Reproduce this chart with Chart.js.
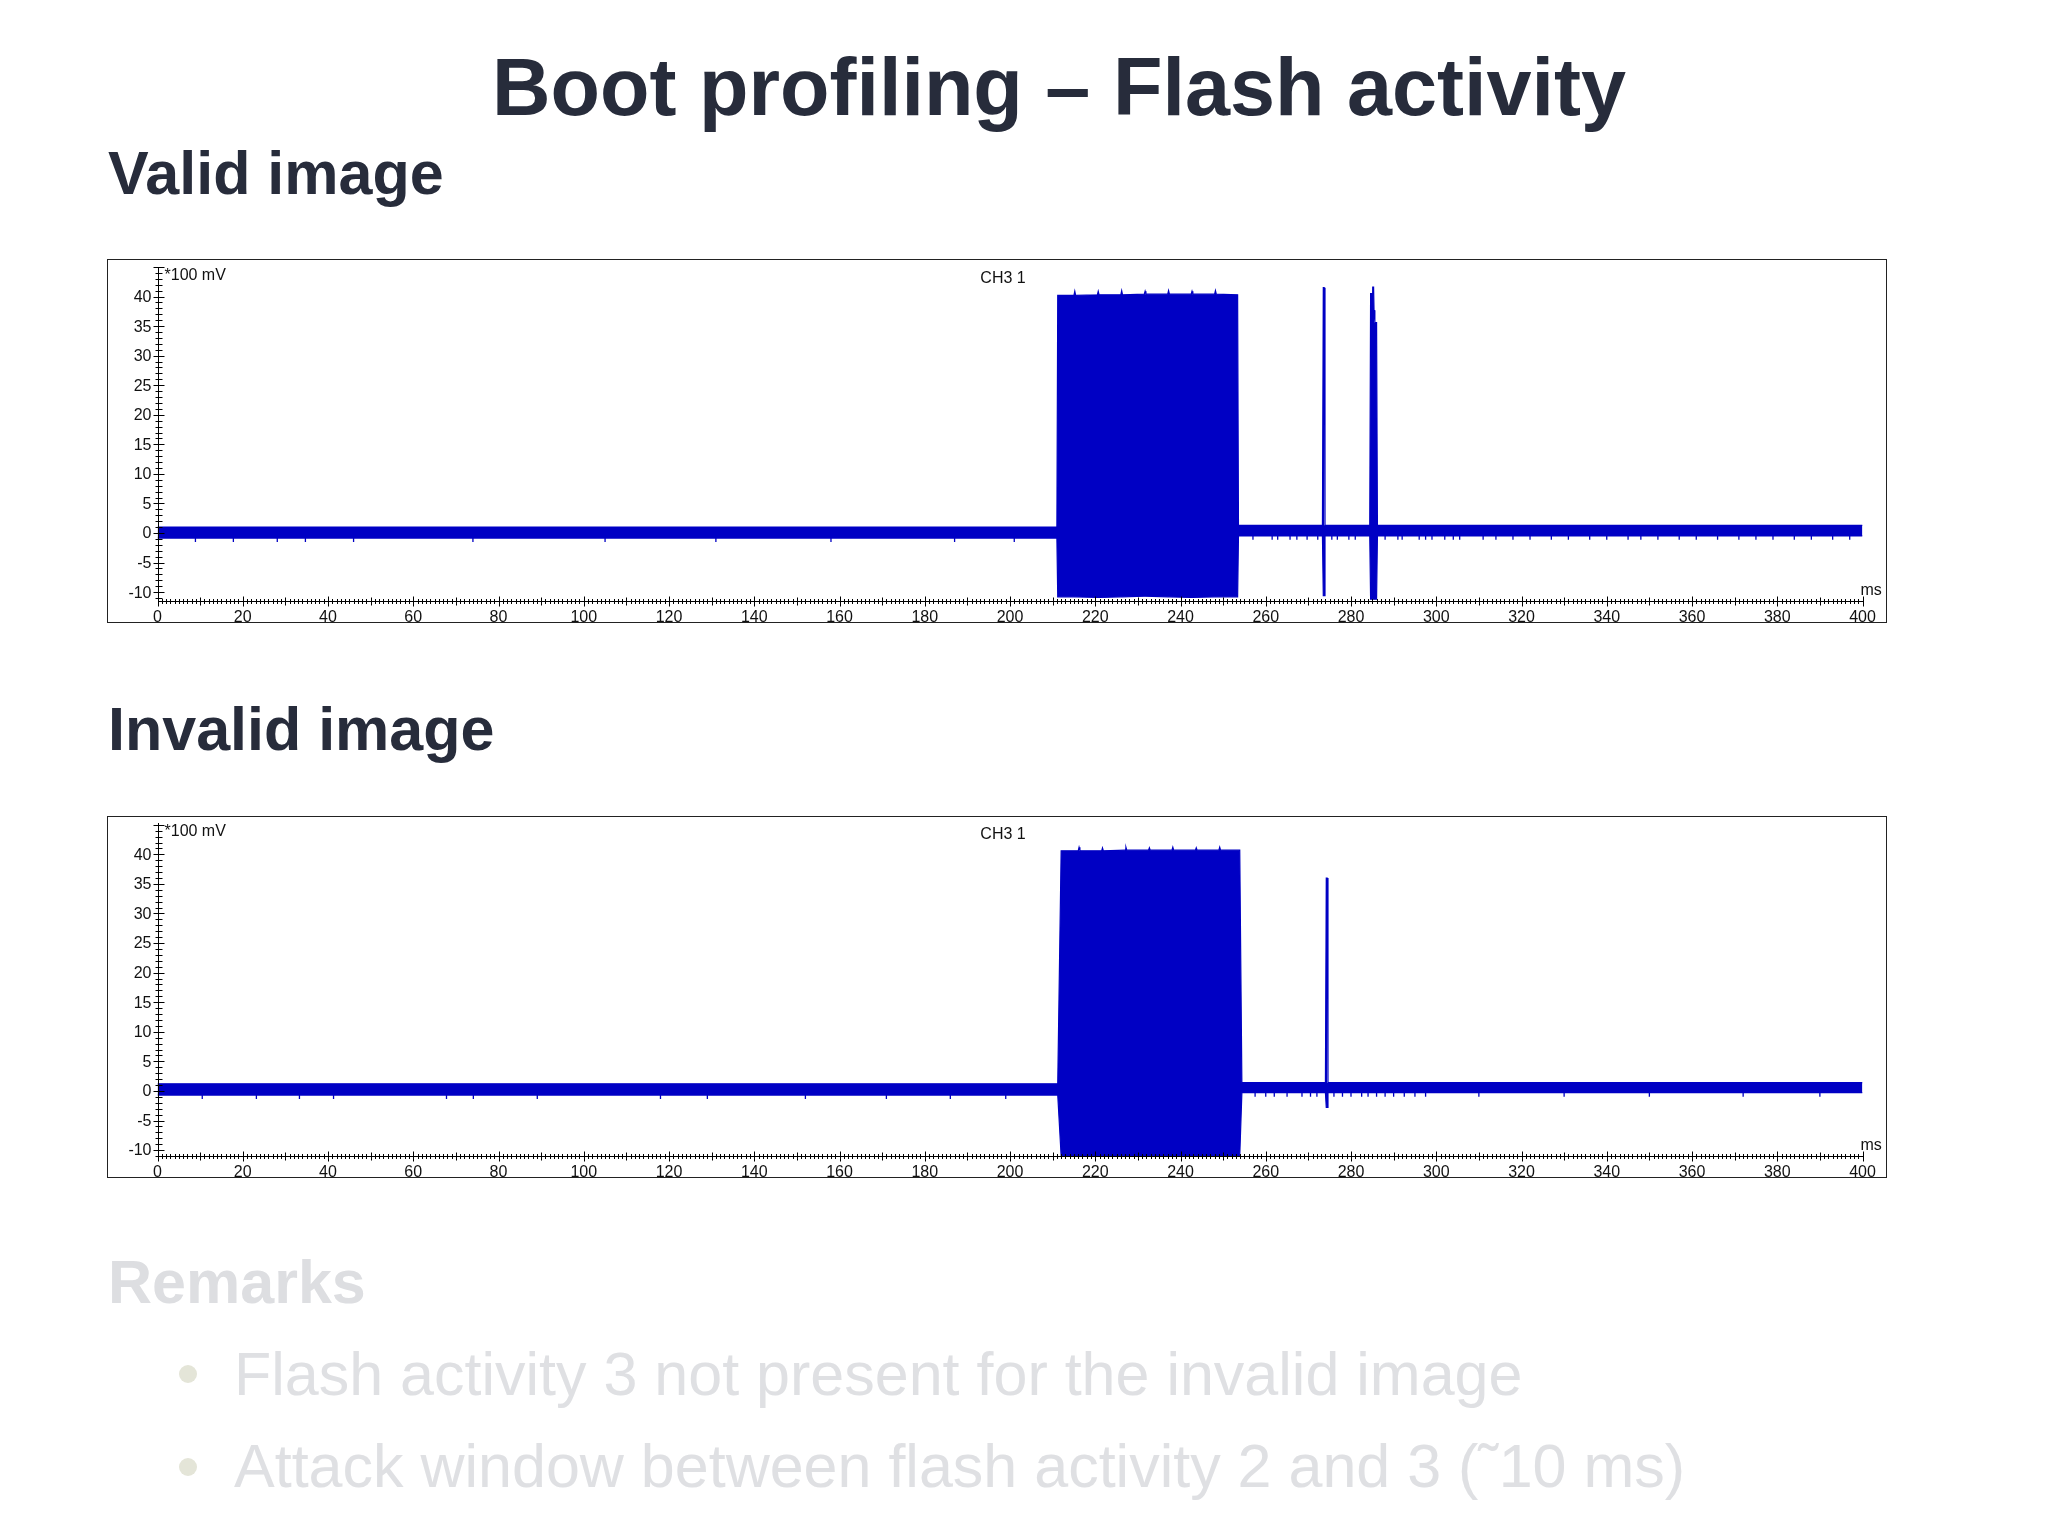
<!DOCTYPE html>
<html>
<head>
<meta charset="utf-8">
<title>Boot profiling – Flash activity</title>
<script src="https://cdn.jsdelivr.net/npm/chart.js@4.4.1/dist/chart.umd.min.js"></script>
<style>
    body {
        margin: 0;
        width: 2048px;
        height: 1536px;
        background: #fff;
        position: relative;
        overflow: hidden;
        font-family: "Liberation Sans", Arial, sans-serif;
    }
    .txt { position: absolute; white-space: nowrap; margin: 0; }
    .title { left: 492px; top: 47px; font-size: 81px; line-height: 81px; font-weight: bold; color: #272c3b; }
    .heading { left: 108px; font-size: 61px; line-height: 61px; font-weight: bold; color: #272c3b; }
    .remarks { color: #dddee1; }
    .bullet { left: 234px; font-size: 61px; line-height: 61px; color: #dfe0e3; }
    .dot { position: absolute; left: 179px; width: 18px; height: 18px; border-radius: 50%; background: #e4e5d8; }
    .box { position: absolute; left: 107px; width: 1780px; border: 1.5px solid #222; box-sizing: border-box; }
    canvas { position: absolute; }
</style>
</head>
<body>

<div class="txt title">Boot profiling – Flash activity</div>
<div class="txt heading" style="top:143px">Valid image</div>
<div class="txt heading" style="top:699px">Invalid image</div>

<div class="box" style="top:259px;height:364px"></div>
<canvas id="validChart" width="1778" height="362" style="left:108px;top:260px"></canvas>

<div class="box" style="top:816px;height:362px"></div>
<canvas id="invalidChart" width="1778" height="360" style="left:108px;top:817px"></canvas>

<div class="txt heading remarks" style="top:1252px">Remarks</div>
<div class="dot" style="top:1365px"></div>
<div class="txt bullet" style="top:1344px">Flash activity 3 not present for the invalid image</div>
<div class="dot" style="top:1458px"></div>
<div class="txt bullet" style="top:1436px">Attack window between flash activity 2 and 3 (˜10 ms)</div>

<script>
/* DATA (ms, *100 mV) - upper and lower envelope of the scope trace */

const xTicks = [0, 20, 40, 60, 80, 100, 120, 140, 160, 180, 200, 220, 240, 260, 280, 300, 320, 340, 360, 380, 400];
const yTicks = [-10, -5, 0, 5, 10, 15, 20, 25, 30, 35, 40];

// Valid image
const validTimes = [0, 211.0, 211.2, 215.0, 215.2, 215.4, 220.5, 220.7, 220.9, 226.0, 226.2, 226.4,
    231.5, 231.7, 231.9, 237.0, 237.2, 237.4, 242.5, 242.7, 242.9, 248.0, 248.2, 248.4,
    253.4, 253.6, 273.3, 273.5, 273.7, 273.9, 284.4, 284.6, 285.0, 285.1, 285.3, 285.4, 285.6, 286.0, 286.2, 400];
const validUpper = [1.0, 1.0, 40.2, 40.2, 40.9, 40.2, 40.3, 40.9, 40.3, 40.3, 41.0, 40.3,
    40.4, 40.9, 40.4, 40.4, 41.0, 40.4, 40.4, 40.9, 40.4, 40.4, 41.0, 40.4,
    40.3, 1.3, 1.3, 41.5, 41.5, 1.3, 1.3, 40.5, 40.5, 41.6, 41.6, 37.7, 35.6, 35.6, 1.3, 1.3];
const validLower = [-0.85, -0.85, -10.8, -10.8, -10.8, -10.8, -10.9, -10.9, -10.9, -10.8, -10.8, -10.8,
    -10.7, -10.7, -10.7, -10.8, -10.8, -10.8, -10.9, -10.9, -10.9, -10.8, -10.8, -10.8,
    -10.8, -0.5, -0.5, -10.6, -10.6, -0.5, -0.5, -11.2, -11.2, -11.2, -11.2, -11.2, -11.2, -11.2, -0.5, -0.5];
const validDipTimes = [8.9, 17.8, 28.1, 34.7, 46.0, 74.0, 105, 131, 158, 187, 201,
    257.0, 261.5, 262.8, 265.7, 267.3, 269.7, 272.2, 275.5, 276.8, 279.5, 281.0, 288.0, 291.0, 292.0,
    296.0, 297.5, 299.0, 302.0, 304.0, 305.5, 311, 314, 318, 322, 327, 331, 336, 340, 345, 348,
    352, 357, 361, 366, 371, 375, 379, 384, 388, 393, 397];
const validDipValues = [-1.15, -1.15, -1.15, -1.15, -1.15, -1.15, -1.15, -1.15, -1.15, -1.15, -1.15,
    -0.75, -0.75, -0.75, -0.75, -0.75, -0.75, -0.75, -0.75, -0.75, -0.75, -0.75, -0.75, -0.75, -0.75,
    -0.75, -0.75, -0.75, -0.75, -0.75, -0.75, -0.75, -0.75, -0.75, -0.75, -0.75, -0.75, -0.75, -0.75, -0.75, -0.75,
    -0.75, -0.75, -0.75, -0.75, -0.75, -0.75, -0.75, -0.75, -0.75, -0.75, -0.75];

// Invalid image
const invalidTimes = [0, 211.2, 212.0, 216.0, 216.2, 216.4, 221.5, 221.7, 221.9, 227.0, 227.2, 227.4,
    232.5, 232.7, 232.9, 238.0, 238.2, 238.4, 243.5, 243.7, 243.9, 249.0, 249.2, 249.4,
    253.9, 254.4, 274.0, 274.2, 274.4, 274.6, 400];
const invalidUpper = [1.2, 1.2, 40.6, 40.6, 41.2, 40.6, 40.6, 41.1, 40.6, 40.7, 41.2, 40.7,
    40.7, 41.1, 40.7, 40.7, 41.2, 40.7, 40.7, 41.1, 40.7, 40.7, 41.2, 40.7,
    40.7, 1.4, 1.4, 36.0, 36.0, 1.4, 1.4];
const invalidLower = [-0.7, -0.7, -11, -11, -11, -11, -11, -11, -11, -11, -11, -11,
    -11, -11, -11, -11, -11, -11, -11, -11, -11, -11, -11, -11,
    -11, -0.3, -0.3, -2.8, -2.8, -0.3, -0.3];
const invalidDipTimes = [10.5, 23.2, 33.3, 41.3, 67.8, 74.1, 89.1, 118, 129, 152, 171, 186, 199,
    257.5, 260, 262, 265, 268.5, 270.5, 272, 276, 278, 280, 282.5, 284, 286, 288, 290, 292.5, 295, 297.5,
    310, 330, 350, 372, 390];
const invalidDipValues = [-1.0, -1.0, -1.0, -1.0, -1.0, -1.0, -1.0, -1.0, -1.0, -1.0, -1.0, -1.0, -1.0,
    -0.6, -0.6, -0.6, -0.6, -0.6, -0.6, -0.6, -0.6, -0.6, -0.6, -0.6, -0.6, -0.6, -0.6, -0.6, -0.6, -0.6, -0.6,
    -0.6, -0.6, -0.6, -0.6, -0.6];

const TRACE = '#0000c4';

/* SCOPE AXES - ticks cross the axis lines like the scope software draws them */

const scopeAxes = {
    id: 'scopeAxes',
    afterDatasetsDraw(chart, args, opts) {
        const { ctx, chartArea: area, scales: { x, y } } = chart;
        const x0 = Math.round(x.getPixelForValue(x.min)) + 0.5;
        const xEnd = x.getPixelForValue(x.max);
        const yAxis = Math.round(area.bottom) + 0.5;

        ctx.save();
        ctx.strokeStyle = '#000';
        ctx.lineWidth = 1;
        ctx.beginPath();
        ctx.moveTo(x0, area.top);
        ctx.lineTo(x0, yAxis);
        ctx.moveTo(x0, yAxis);
        ctx.lineTo(xEnd + 1, yAxis);

        for (let v = Math.ceil(y.min); v <= Math.floor(y.max); v++) {
            const py = Math.round(y.getPixelForValue(v)) + 0.5;
            const len = v % 5 === 0 ? 5 : 3;
            ctx.moveTo(x0 - len, py);
            ctx.lineTo(x0 + len + 1, py);
        }
        for (let t = x.min; t <= x.max; t++) {
            const px = Math.round(x.getPixelForValue(t)) + 0.5;
            const len = t % 20 === 0 ? 5 : (t % 10 === 0 ? 4 : 2.5);
            ctx.moveTo(px, yAxis - len);
            ctx.lineTo(px, yAxis + len);
        }
        ctx.stroke();

        ctx.fillStyle = '#111';
        ctx.font = '16px "Liberation Sans", Arial, sans-serif';
        ctx.textAlign = 'right';
        ctx.textBaseline = 'middle';
        yTicks.forEach(v => ctx.fillText(String(v), x0 - 7, y.getPixelForValue(v) + 1));

        ctx.textAlign = 'center';
        ctx.textBaseline = 'top';
        xTicks.forEach(t => ctx.fillText(String(t), x.getPixelForValue(t), yAxis + 8));

        ctx.font = '16px "Liberation Sans", Arial, sans-serif';
        ctx.textAlign = 'left';
        ctx.fillText(opts.unitY, x0 + 6, area.top + 1);
        ctx.textBaseline = 'bottom';
        ctx.fillText(opts.unitX, xEnd - 2, yAxis - 3);
        ctx.textAlign = 'center';
        ctx.textBaseline = 'top';
        ctx.fillText(opts.channel, chart.width / 2 + 6, area.top + 4);
        ctx.restore();
    }
};

function toPoints(times, values) {
    return times.map((t, i) => ({ x: t, y: values[i] }));
}

function createScopeChart(id, times, upper, lower, dipTimes, dipValues, yMin, yMax, padding) {
    const ctx = document.getElementById(id).getContext('2d');
    return new Chart(ctx, {
        type: 'line',
        data: {
            datasets: [
                {
                    label: 'CH3 1 max',
                    data: toPoints(times, upper),
                    borderColor: TRACE,
                    borderWidth: 1.2,
                    pointRadius: 0,
                    fill: false,
                },
                {
                    label: 'CH3 1 min',
                    data: toPoints(times, lower),
                    borderColor: TRACE,
                    backgroundColor: TRACE,
                    borderWidth: 1.2,
                    pointRadius: 0,
                    fill: '-1',
                },
                {
                    label: 'CH3 1 noise',
                    data: toPoints(dipTimes, dipValues),
                    showLine: false,
                    pointStyle: 'line',
                    rotation: 90,
                    pointRadius: 2.2,
                    pointBorderWidth: 1.3,
                    pointBorderColor: TRACE,
                },
            ],
        },
        options: {
            responsive: false,
            animation: false,
            events: [],
            layout: { padding: padding },
            scales: {
                x: { type: 'linear', min: 0, max: 400, display: false },
                y: { type: 'linear', min: yMin, max: yMax, display: false },
            },
            plugins: {
                legend: { display: false },
                tooltip: { enabled: false },
                scopeAxes: { unitY: '*100 mV', unitX: 'ms', channel: 'CH3 1' },
            },
        },
        plugins: [scopeAxes],
    });
}

createScopeChart('validChart', validTimes, validUpper, validLower, validDipTimes, validDipValues,
    -11.5, 45, { left: 49.5, right: 23.5, top: 7, bottom: 21 });
createScopeChart('invalidChart', invalidTimes, invalidUpper, invalidLower, invalidDipTimes, invalidDipValues,
    -11, 45.3, { left: 49.5, right: 23.5, top: 6, bottom: 21 });
</script>
</body>
</html>
